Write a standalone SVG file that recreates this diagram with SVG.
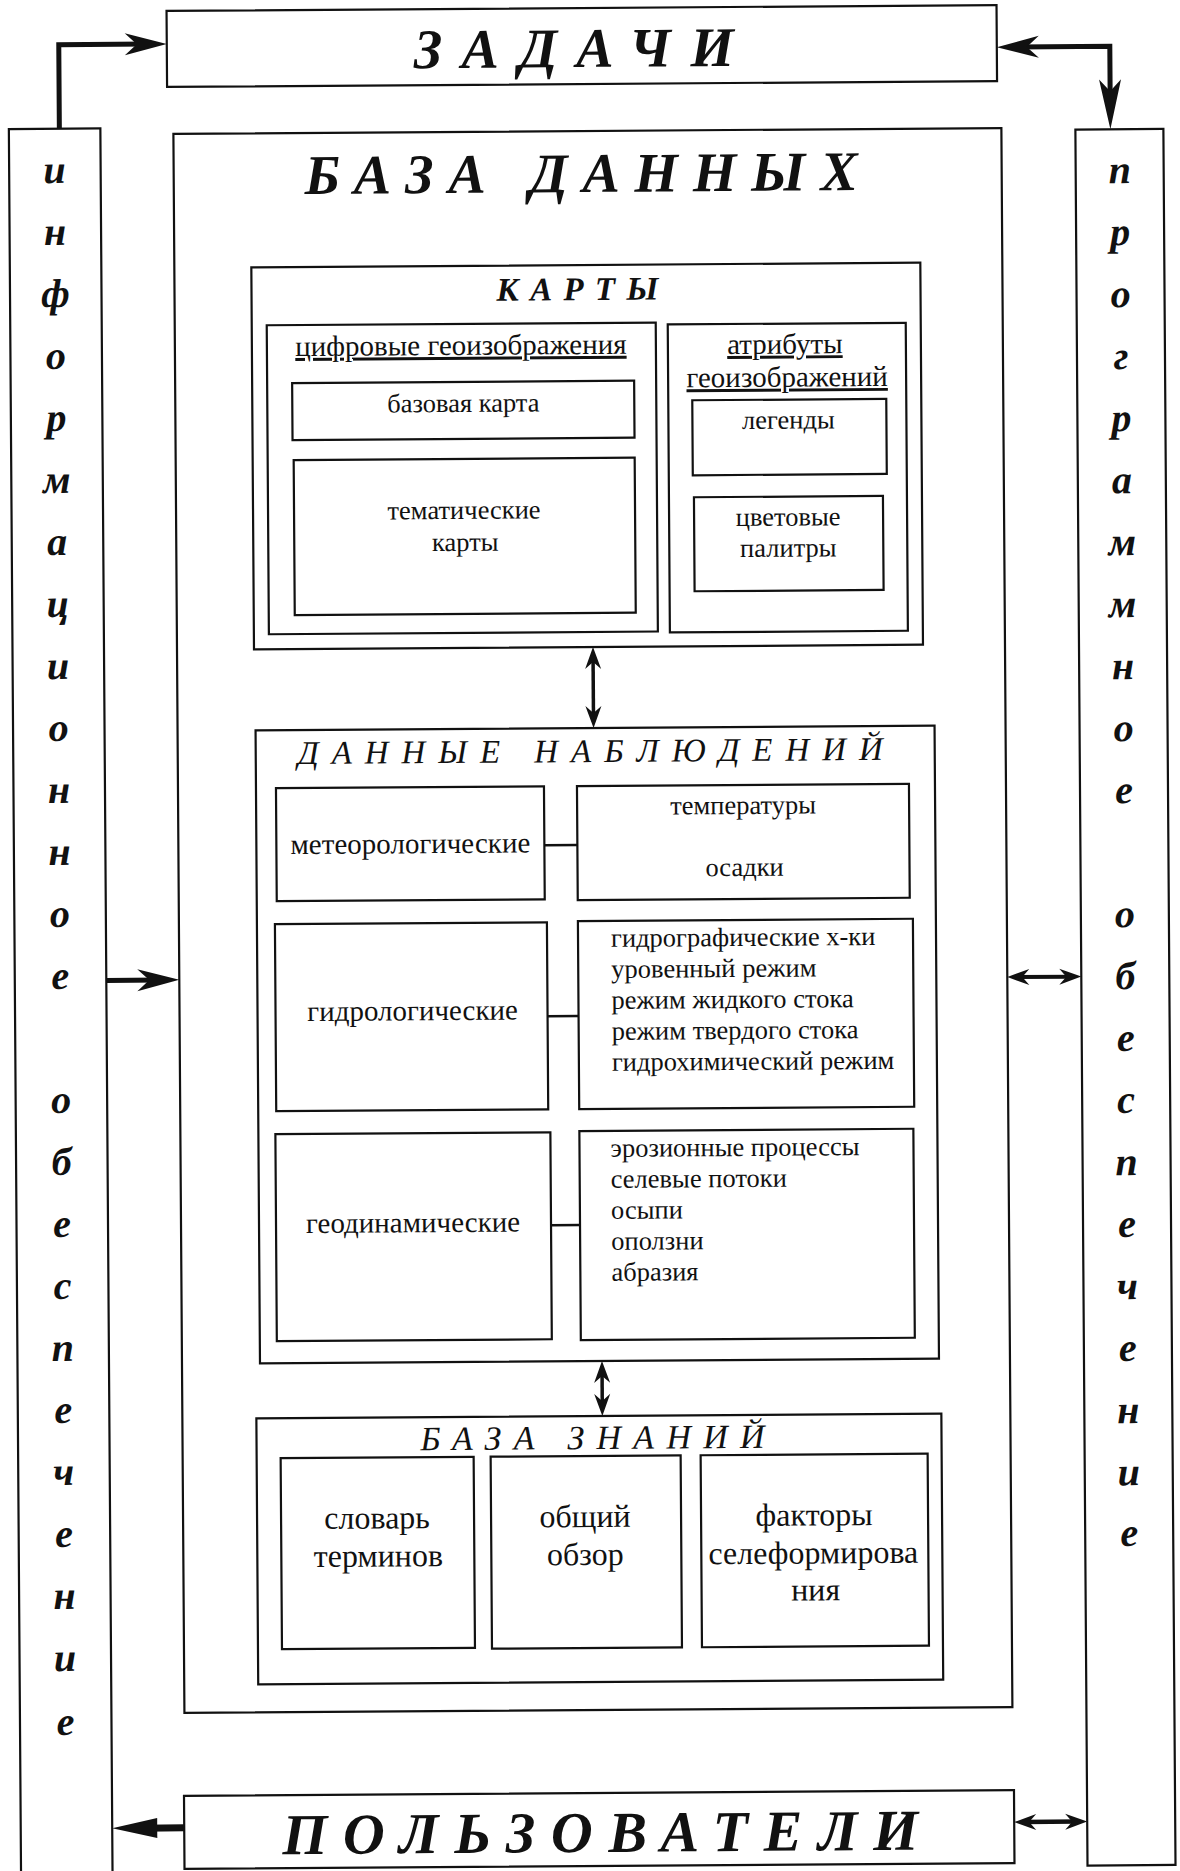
<svg xmlns="http://www.w3.org/2000/svg" width="1180" height="1871" viewBox="0 0 1180 1871">
<style>
.box{fill:none;stroke:#111;stroke-width:2.2}
.t{font-family:"Liberation Serif","Times New Roman",serif;fill:#111}
.a{font-size:29px}
.b{font-size:26.5px}
.c{font-size:32px}
.m{text-anchor:middle}
.bi{font-weight:bold;font-style:italic}
.i{font-style:italic}
.u{text-decoration:underline}
.col{font-family:"Liberation Serif","Times New Roman",serif;font-weight:bold;font-style:italic;font-size:40px;text-anchor:middle;fill:#111}
.ln{stroke:#111;fill:none;stroke-linecap:butt}
</style>
<defs>
<marker id="big" markerUnits="userSpaceOnUse" orient="auto-start-reverse" refX="-20" refY="0" markerWidth="1" markerHeight="1" overflow="visible"><path d="M0,0 L-42,-11 L-30,0 L-42,11 Z" fill="#111"/></marker>
<marker id="long" markerUnits="userSpaceOnUse" orient="auto-start-reverse" refX="-25" refY="0" markerWidth="1" markerHeight="1" overflow="visible"><path d="M0,0 L-50,-11 L-38,0 L-50,11 Z" fill="#111"/></marker>
<marker id="sm" markerUnits="userSpaceOnUse" orient="auto-start-reverse" refX="-10" refY="0" markerWidth="1" markerHeight="1" overflow="visible"><path d="M0,0 L-22,-8 L-15,0 L-22,8 Z" fill="#111"/></marker>
<marker id="solid" markerUnits="userSpaceOnUse" orient="auto-start-reverse" refX="-30" refY="0" markerWidth="1" markerHeight="1" overflow="visible"><path d="M0,0 L-45,-10 L-45,10 Z" fill="#111"/></marker>
</defs>
<rect x="0" y="0" width="1180" height="1871" fill="#fff"/>
<g transform="rotate(-0.4 590 935)">
<g id="zadachi"><rect class="box" x="173" y="8" width="830" height="76"/><text class="t bi" x="420" y="67" font-size="56" textLength="320" lengthAdjust="spacing">ЗАДАЧИ</text></g>
<g id="info"><rect class="box" x="14.5" y="125" width="91.5" height="1760"/>
<text class="col"><tspan x="60" y="179.3">и</tspan><tspan x="60" y="241.3">н</tspan><tspan x="60" y="303.3">ф</tspan><tspan x="60" y="365.3">о</tspan><tspan x="60" y="427.3">р</tspan><tspan x="60" y="489.3">м</tspan><tspan x="60" y="551.3">а</tspan><tspan x="60" y="613.3">ц</tspan><tspan x="60" y="675.3">и</tspan><tspan x="60" y="737.3">о</tspan><tspan x="60" y="799.3">н</tspan><tspan x="60" y="861.3">н</tspan><tspan x="60" y="923.3">о</tspan><tspan x="60" y="985.3">е</tspan><tspan x="60" y="1109.3">о</tspan><tspan x="60" y="1171.3">б</tspan><tspan x="60" y="1233.3">е</tspan><tspan x="60" y="1295.3">с</tspan><tspan x="60" y="1357.3">п</tspan><tspan x="60" y="1419.3">е</tspan><tspan x="60" y="1481.3">ч</tspan><tspan x="60" y="1543.3">е</tspan><tspan x="60" y="1605.3">н</tspan><tspan x="60" y="1667.3">и</tspan><tspan x="60" y="1731.3">е</tspan></text></g>
<g id="prog"><rect class="box" x="1081" y="133" width="88" height="1736"/>
<text class="col"><tspan x="1125" y="186.8">п</tspan><tspan x="1125" y="248.8">р</tspan><tspan x="1125" y="310.8">о</tspan><tspan x="1125" y="372.8">г</tspan><tspan x="1125" y="434.8">р</tspan><tspan x="1125" y="496.8">а</tspan><tspan x="1125" y="558.8">м</tspan><tspan x="1125" y="620.8">м</tspan><tspan x="1125" y="682.8">н</tspan><tspan x="1125" y="744.8">о</tspan><tspan x="1125" y="806.8">е</tspan><tspan x="1125" y="930.8">о</tspan><tspan x="1125" y="992.8">б</tspan><tspan x="1125" y="1054.8">е</tspan><tspan x="1125" y="1116.8">с</tspan><tspan x="1125" y="1178.8">п</tspan><tspan x="1125" y="1240.8">е</tspan><tspan x="1125" y="1302.8">ч</tspan><tspan x="1125" y="1364.8">е</tspan><tspan x="1125" y="1426.8">н</tspan><tspan x="1125" y="1488.8">и</tspan><tspan x="1125" y="1549.8">е</tspan></text></g>
<g id="db"><rect class="box" x="179" y="131" width="828" height="1579"/><text class="t bi" x="310" y="192" font-size="56" textLength="553" lengthAdjust="spacing">БАЗА ДАННЫХ</text></g>
<g id="karty"><rect class="box" x="256" y="265" width="669" height="382"/><text class="t bi" x="501" y="300" font-size="33" textLength="162" lengthAdjust="spacing">КАРТЫ</text></g>
<g id="cifr"><rect class="box" x="271" y="323" width="389" height="309"/><text class="t a m u" x="465" y="354">цифровые геоизображения</text></g>
<g id="bazovaya"><rect class="box" x="296" y="381" width="342" height="57"/><text class="t b m" x="467" y="411">базовая карта</text></g>
<g id="tematich"><rect class="box" x="297" y="458" width="341" height="155"/><text class="t b m" x="467" y="518">тематические</text><text class="t b m" x="468" y="550">карты</text></g>
<g id="atrib"><rect class="box" x="672" y="325" width="238" height="308"/><text class="t a m u" x="789" y="355">атрибуты</text><text class="t a m u" x="791" y="388">геоизображений</text></g>
<g id="legendy"><rect class="box" x="696" y="401" width="194" height="75"/><text class="t b m" x="792" y="430">легенды</text></g>
<g id="palitry"><rect class="box" x="697" y="498" width="189" height="94"/><text class="t b m" x="791" y="527">цветовые</text><text class="t b m" x="791" y="558">палитры</text></g>
<g id="nabl"><rect class="box" x="257" y="728" width="679" height="633"/><text class="t i" x="299" y="762" font-size="33" textLength="585" lengthAdjust="spacing">ДАННЫЕ НАБЛЮДЕНИЙ</text></g>
<g id="meteo"><rect class="box" x="277" y="786" width="268" height="113"/><text class="t a m" x="411" y="852">метеорологические</text></g>
<g id="temp"><rect class="box" x="578" y="786" width="332" height="114"/><text class="t b m" x="744" y="815">температуры</text><text class="t b m" x="745" y="877">осадки</text></g>
<g id="gidro"><rect class="box" x="275" y="922" width="272" height="187"/><text class="t a m" x="412" y="1019">гидрологические</text></g>
<g id="gidrolist"><rect class="box" x="578" y="921" width="335" height="188"/><text class="t b"><tspan x="611" y="947">гидрографические х-ки</tspan><tspan x="611" y="978">уровенный режим</tspan><tspan x="611" y="1009">режим жидкого стока</tspan><tspan x="611" y="1040">режим твердого стока</tspan><tspan x="611" y="1071">гидрохимический режим</tspan></text></g>
<g id="geodin"><rect class="box" x="274" y="1132" width="275" height="207"/><text class="t a m" x="411" y="1231">геодинамические</text></g>
<g id="erozlist"><rect class="box" x="578" y="1131" width="334" height="209"/><text class="t b"><tspan x="609" y="1157">эрозионные процессы</tspan><tspan x="609" y="1188">селевые потоки</tspan><tspan x="609" y="1219">осыпи</tspan><tspan x="609" y="1250">оползни</tspan><tspan x="609" y="1281">абразия</tspan></text></g>
<g id="znaniy"><rect class="box" x="253" y="1416" width="685" height="266"/><text class="t i" x="417" y="1449" font-size="34" textLength="344" lengthAdjust="spacing">БАЗА  ЗНАНИЙ</text></g>
<g id="slovar"><rect class="box" x="277" y="1456" width="193" height="191"/><text class="t c m" x="373" y="1527">словарь</text><text class="t c m" x="374" y="1565">терминов</text></g>
<g id="obzor"><rect class="box" x="487" y="1456" width="190" height="192"/><text class="t c m" x="581" y="1527">общий</text><text class="t c m" x="581" y="1565">обзор</text></g>
<g id="faktory"><rect class="box" x="697" y="1456" width="227" height="192"/><text class="t c m" x="810" y="1527">факторы</text><text class="t c m" x="809" y="1565">селеформирова</text><text class="t c m" x="811" y="1602">ния</text></g>
<g id="users"><rect class="box" x="178" y="1793" width="830" height="73"/><text class="t bi" x="276" y="1852" font-size="58" textLength="636" lengthAdjust="spacing">ПОЛЬЗОВАТЕЛИ</text></g>
<g id="connectors">
<path class="ln" stroke-width="5" d="M65,125 V41 H153" marker-end="url(#big)"/>
<path class="ln" stroke-width="5" d="M1116,108 V50 H1023" marker-start="url(#long)" marker-end="url(#big)"/>
<path class="ln" stroke-width="5" d="M106,977 H159" marker-end="url(#big)"/>
<path class="ln" stroke-width="4" d="M1017,980 H1071" marker-start="url(#sm)" marker-end="url(#sm)"/>
<path class="ln" stroke-width="7" d="M178,1825 H136" marker-end="url(#solid)"/>
<path class="ln" stroke-width="4.5" d="M1018,1825 H1071" marker-start="url(#sm)" marker-end="url(#sm)"/>
<path class="ln" stroke-width="3.5" d="M595,657 V718" marker-start="url(#sm)" marker-end="url(#sm)"/>
<path class="ln" stroke-width="3.5" d="M599,1371 V1406" marker-start="url(#sm)" marker-end="url(#sm)"/>
<path class="ln" stroke-width="2.5" d="M545,845 H578"/>
<path class="ln" stroke-width="2.5" d="M547,1016 H578"/>
<path class="ln" stroke-width="2.5" d="M549,1225 H578"/>
</g>
</g>
</svg>
